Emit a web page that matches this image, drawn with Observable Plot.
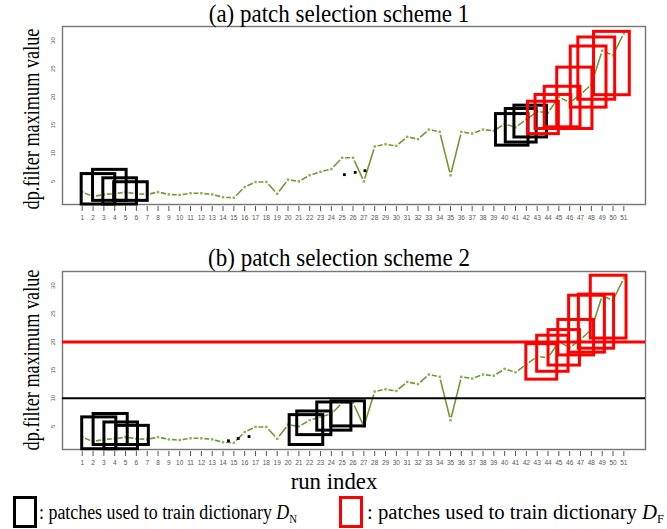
<!DOCTYPE html>
<html>
<head>
<meta charset="utf-8">
<script src="https://cdn.jsdelivr.net/npm/d3@7"></script>
<script src="https://cdn.jsdelivr.net/npm/@observablehq/plot@0.6"></script>
<style>
  html, body { margin: 0; padding: 0; background: #fff; }
  #root { position: relative; width: 667px; height: 529px; overflow: hidden; background: #fff;
          font-family: "Liberation Serif", "Times New Roman", serif; color: #000; }
  .panel { position: absolute; left: 0; }
  .txt { position: absolute; white-space: nowrap; line-height: 1; }
  .title { font-size: 25px; transform: translate(-50%, 0) scaleX(0.92); }
  .ylab { font-size: 24px; transform: translate(-50%, -50%) rotate(-90deg) scaleX(0.76); }
  .xlab { font-size: 24px; transform: translate(-50%, 0) scaleX(0.95); }
  .key { position: absolute; box-sizing: border-box; border: 3px solid #000; background: transparent; }
  .legtxt { font-size: 20px; transform-origin: 0 50%; }
  .legtxt i { font-style: italic; }
  .legtxt sub { font-style: normal; font-size: 12px; vertical-align: -4px; }
</style>
</head>
<body>
<div id="root"></div>
<script>
// Run index on the x axis
const runIndex = [1,2,3,4,5,6,7,8,9,10,11,12,13,14,15,16,17,18,19,20,21,22,23,24,25,
  26,27,28,29,30,31,32,33,34,35,36,37,38,39,40,41,42,43,44,45,46,47,48,49,50,51];

// dp.filter maximum value for each run
const filterMax = [3.1, 2.3, 2.7, 2.8, 3.1, 2.8, 2.7, 3.1, 2.7, 2.6, 2.9, 2.9, 2.7, 2.2, 2.1,
  4.0, 4.9, 4.9, 2.8, 5.3, 5.0, 6.1, 6.7, 7.2, 9.2, 9.2, 5.0, 11.2, 11.6, 11.3, 12.9, 12.5,
  14.2, 13.8, 6.1, 13.8, 13.5, 14.2, 14.0, 15.2, 14.6, 16.0, 17.4, 17.2, 20.0, 19.0, 20.4,
  22.2, 28.2, 27.4, 31.3];

const yTicks = [5, 10, 15, 20, 25, 30];

// Patches as [run from, run to, value low, value high]
// scheme 1
const patchesA_N = [
  [0.95, 4.05, 0.9, 6.3], [2.0, 5.1, 1.55, 7.05], [2.95, 6.05, 0.9, 5.55], [3.95, 7.05, 1.55, 4.85],
  [39.2, 42.2, 11.35, 16.95], [40.1, 42.95, 11.9, 17.85], [40.9, 43.9, 12.8, 18.45]
];
const patchesA_F = [
  [42.15, 45.0, 13.4, 19.15], [42.85, 46.15, 14.3, 20.35], [43.7, 47.0, 14.6, 21.8],
  [44.85, 48.1, 14.3, 25.2], [46.1, 49.4, 18.1, 28.95], [46.8, 50.2, 19.5, 30.55],
  [48.25, 51.55, 20.3, 31.55]
];
// scheme 2
const patchesB_N = [
  [1.0, 4.15, 0.95, 6.6], [2.05, 5.2, 1.7, 7.2], [3.05, 6.15, 0.95, 5.7], [4.15, 7.15, 1.7, 5.1],
  [20.15, 23.25, 1.7, 7.0], [20.85, 24.0, 3.45, 7.65], [22.7, 25.85, 4.25, 9.25], [24.0, 27.1, 5.0, 9.45]
];
const patchesB_F = [
  [42.0, 44.85, 13.3, 19.6], [43.0, 45.9, 14.7, 21.1], [44.05, 46.95, 15.8, 22.1],
  [44.95, 48.25, 17.6, 23.9], [45.95, 49.25, 18.1, 28.2], [46.85, 50.1, 18.8, 28.4],
  [47.95, 51.25, 20.6, 31.75]
];

// Thresholds of scheme 2: upper (red) and lower (black)
const thresholdF = 20;
const thresholdN = 10;

// Small black marks beside the curve, [run, value]
const marksA = [[25.2, 6.2], [26.2, 6.6], [27.1, 6.9]];
const marksB = [[14.5, 2.45], [15.4, 2.85], [16.4, 3.2]];

const series = runIndex.map((r, i) => ({run: r, value: filterMax[i]}));
const toRects = arr => arr.map(([x1, x2, y1, y2]) => ({x1, x2, y1, y2}));

const lineGreen = "#6f9a32";
const dotGreen = "#8db54a";

function panel({nPatches, fPatches, dots, rules}) {
  const marks = [
    Plot.frame({stroke: "#767676", strokeWidth: 1.4}),
    Plot.axisY(yTicks, {tickSize: 0, tickPadding: 8, tickRotate: -90, fontSize: 6,
      color: "#555", label: null, fontFamily: "Liberation Sans, Arial, sans-serif"}),
    Plot.axisX(runIndex, {tickSize: 5, tickPadding: 4, dy: 2, fontSize: 6.5, color: "#555",
      label: null, fontFamily: "Liberation Sans Narrow, Arial Narrow, sans-serif"}),
    // curve drawn R type="b": segments broken around each point
    Plot.line(series, {x: "run", y: "value", stroke: lineGreen, strokeWidth: 1.6}),
    Plot.dot(series, {x: "run", y: "value", r: 3, fill: "white", stroke: null}),
    Plot.dot(series, {x: "run", y: "value", symbol: "square", r: 1.4, fill: dotGreen, stroke: null})
  ];
  if (rules) {
    marks.push(Plot.ruleY([thresholdF], {stroke: "#ff0000", strokeWidth: 3}));
    marks.push(Plot.ruleY([thresholdN], {stroke: "#000", strokeWidth: 2}));
  }
  marks.push(
    Plot.dot(dots, {x: d => d[0], y: d => d[1], symbol: "square", r: 1.6, fill: "#000"}),
    Plot.rect(toRects(nPatches), {x1: "x1", x2: "x2", y1: "y1", y2: "y2", fill: "none",
      stroke: "#000", strokeWidth: 3}),
    Plot.rect(toRects(fPatches), {x1: "x1", x2: "x2", y1: "y1", y2: "y2", fill: "none",
      stroke: "#ff0000", strokeWidth: 3})
  );
  return Plot.plot({
    width: 667, height: 228,
    marginLeft: 62, marginRight: 22, marginTop: 26, marginBottom: 24,
    x: {type: "linear", domain: [-0.82, 53.0]},
    y: {type: "linear", domain: [0.9, 32.5]},
    style: {background: "transparent", overflow: "visible"},
    marks
  });
}

const root = document.getElementById("root");

const svgA = panel({nPatches: patchesA_N, fPatches: patchesA_F, dots: marksA, rules: false});
svgA.classList.add("panel");
svgA.style.top = "0px";
root.appendChild(svgA);

const svgB = panel({nPatches: patchesB_N, fPatches: patchesB_F, dots: marksB, rules: true});
svgB.classList.add("panel");
svgB.style.top = "245px";
root.appendChild(svgB);

function addText(cls, html, left, top) {
  const el = document.createElement("div");
  el.className = "txt " + cls;
  el.innerHTML = html;
  el.style.left = left + "px";
  el.style.top = top + "px";
  root.appendChild(el);
  return el;
}

addText("title", "(a) patch selection scheme 1", 339, 1);
addText("title", "(b) patch selection scheme 2", 339, 245);
addText("ylab", "dp.filter maximum value", 31, 119);
addText("ylab", "dp.filter maximum value", 31, 360);
addText("xlab", "run index", 334, 469);

// legend
function addKey(color, left) {
  const k = document.createElement("div");
  k.className = "key";
  k.style.borderColor = color;
  k.style.left = left + "px";
  k.style.top = "496px";
  k.style.width = "24px";
  k.style.height = "32px";
  root.appendChild(k);
}
addKey("#000", 13);
addKey("#ff0000", 339);
const leg1 = addText("legtxt", ": patches used to train dictionary <i>D</i><sub>N</sub>", 39, 502);
const leg2 = addText("legtxt", ": patches used to train dictionary <i>D</i><sub>F</sub>", 367, 502);
// fit each legend line to its width
leg1.style.transform = `scaleX(${258 / leg1.getBoundingClientRect().width})`;
leg2.style.transform = `scaleX(${297 / leg2.getBoundingClientRect().width})`;
</script>
</body>
</html>
